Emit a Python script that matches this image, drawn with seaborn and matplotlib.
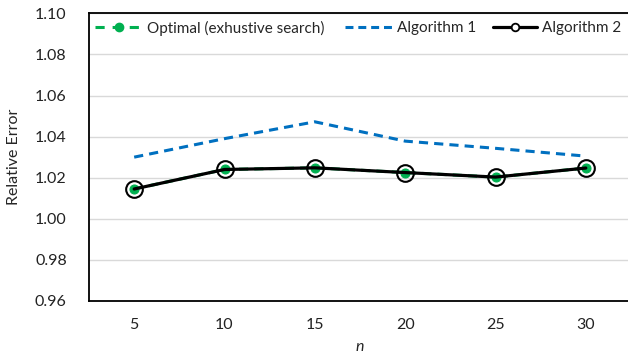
import matplotlib
matplotlib.use("Agg")
import matplotlib.pyplot as plt
from matplotlib.lines import Line2D
import seaborn as sns
import pandas as pd

# values
n_values = ["5", "10", "15", "20", "25", "30"]
optimal = [1.0145, 1.0240, 1.0248, 1.0225, 1.0203, 1.0247]
algorithm_1 = [1.0300, 1.0390, 1.0472, 1.0378, 1.0343, 1.0305]
algorithm_2 = [1.0145, 1.0240, 1.0248, 1.0225, 1.0203, 1.0247]
y_ticks = [0.96, 0.98, 1.00, 1.02, 1.04, 1.06, 1.08, 1.10]
legend_labels = ["Optimal (exhustive search)", "Algorithm 1", "Algorithm 2"]

GREEN = "#00B050"
BLUE = "#0070C0"
FS = 11.5

sns.set_style("white")
plt.rcParams["font.family"] = ["Lato", "DejaVu Sans"]
plt.rcParams["font.size"] = FS

df = pd.DataFrame({"n": n_values, "optimal": optimal,
                   "alg1": algorithm_1, "alg2": algorithm_2})

W, H = 628, 358
fig = plt.figure(figsize=(W / 100, H / 100), dpi=100)
ax = fig.add_axes([89 / W, 1 - 301 / H, (631 - 89) / W, (301 - 13.3) / H])

sns.lineplot(data=df, x="n", y="alg1", ax=ax, color=BLUE, linewidth=2.2,
             linestyle=(0, (3, 2)), sort=False, zorder=2)
sns.lineplot(data=df, x="n", y="optimal", ax=ax, color=GREEN, linewidth=2.2,
             linestyle=(0, (3, 2)), marker="o", markersize=6.5,
             markeredgecolor=GREEN, sort=False, zorder=3)
sns.lineplot(data=df, x="n", y="alg2", ax=ax, color="black", linewidth=2.3,
             marker="o", markersize=12, markerfacecolor="none",
             markeredgecolor="black", markeredgewidth=1.5, sort=False, zorder=4)

ax.set_xlim(-0.5, 5.5)
ax.set_ylim(0.96, 1.10)
ax.set_yticks(y_ticks)
ax.set_yticklabels([f"{v:.2f}" for v in y_ticks])
ax.yaxis.grid(True, color="#D9D9D9", linewidth=1)
ax.set_axisbelow(True)
ax.tick_params(axis="both", length=0, labelsize=FS, colors="#222222")
ax.tick_params(axis="x", pad=12)
ax.tick_params(axis="y", pad=16)

for side in ["left", "bottom", "top"]:
    ax.spines[side].set_color("black")
    ax.spines[side].set_linewidth(1.3)
ax.spines["right"].set_visible(False)

ax.set_xlabel("n", style="italic", fontsize=FS, labelpad=6)
ax.set_ylabel("Relative Error", fontsize=FS, labelpad=10)

handles = [
    Line2D([], [], color=GREEN, linewidth=2.2, linestyle=(0, (3, 2.6)),
           marker="o", markersize=6, markeredgecolor=GREEN),
    Line2D([], [], color=BLUE, linewidth=2.2, linestyle=(0, (2.6, 1.6))),
    Line2D([], [], color="black", linewidth=2.3, marker="o", markersize=5.5,
           markerfacecolor="white", markeredgecolor="black", markeredgewidth=1.3),
]
# one legend per entry so each sits where the reference puts it
legend_x = [95, 345, 493]
legend_len = [3.1, 3.1, 2.9]
for h, lab, x0, hl in zip(handles, legend_labels, legend_x, legend_len):
    fig.legend([h], [lab], loc="center left",
               bbox_to_anchor=(x0 / W, 1 - 28 / H), frameon=False,
               handlelength=hl, handletextpad=0.3,
               fontsize=11, borderaxespad=0, borderpad=0)

fig.savefig("out.png", dpi=100)
